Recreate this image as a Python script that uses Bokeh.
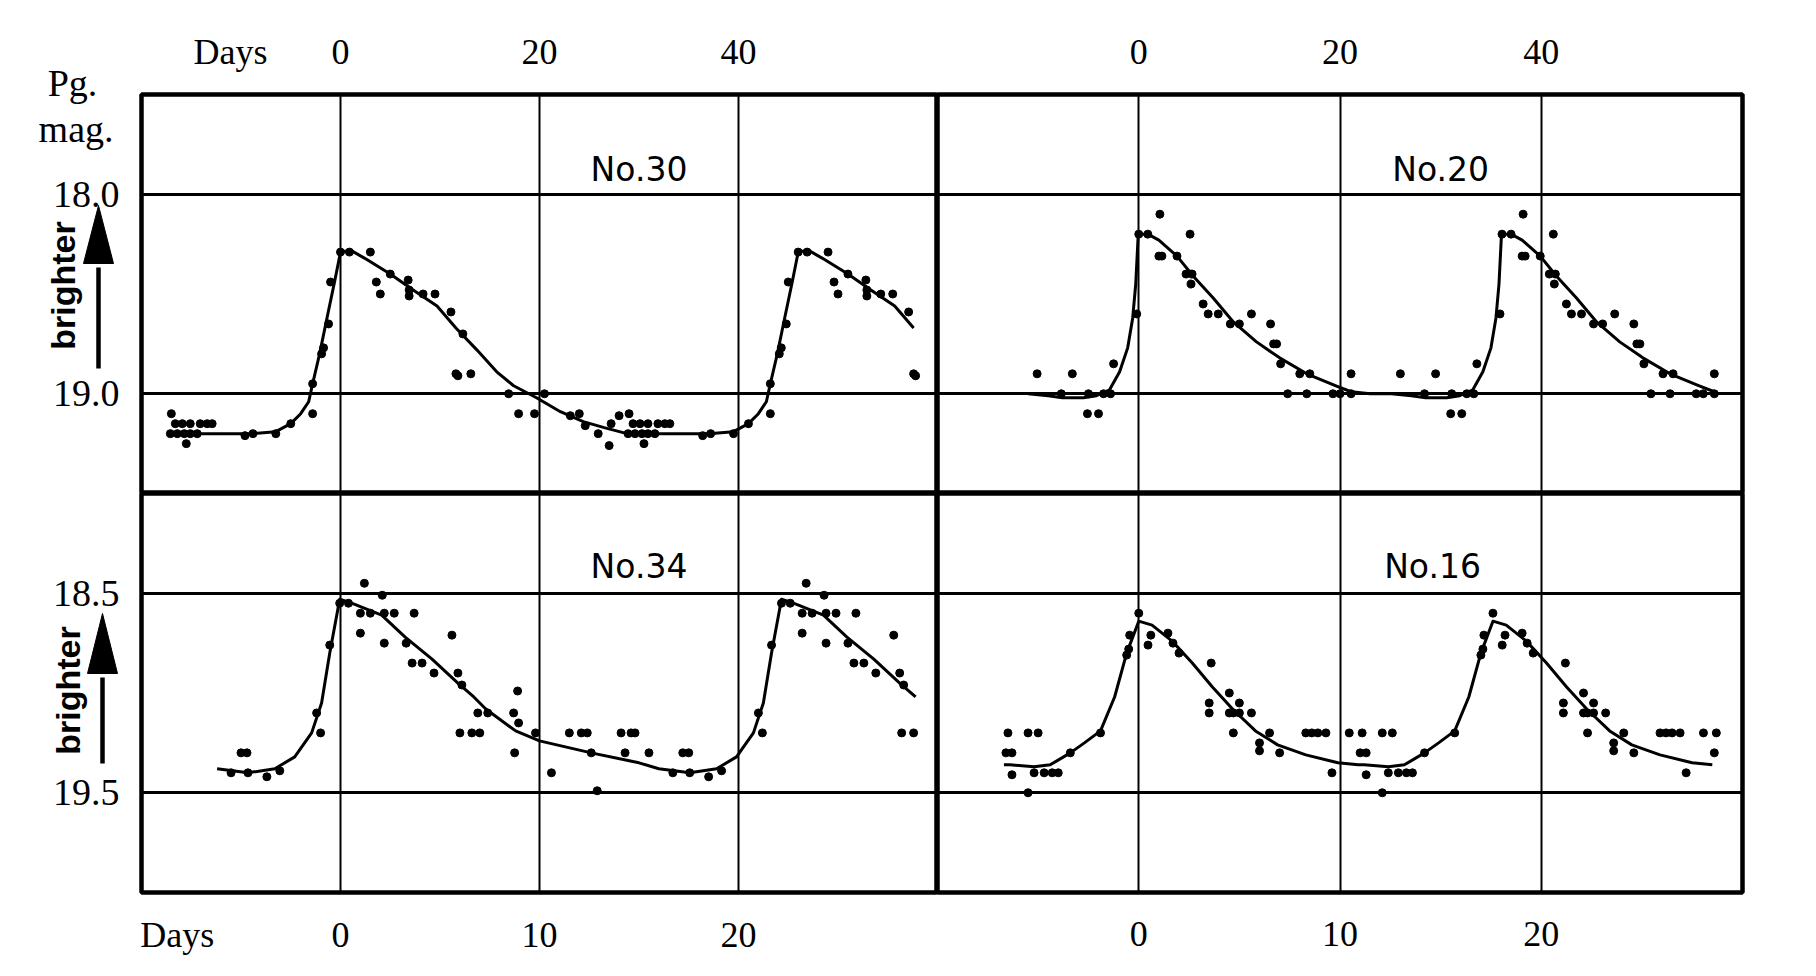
import math
from bokeh.plotting import figure
from bokeh.layouts import row, column
from bokeh.models import Range1d, FixedTicker, Label, Grid
from bokeh.core.properties import value
from bokeh.embed import file_html
from bokeh.resources import INLINE

# ------------------------------------------------------------------ data
top_day_ticks = [0, 20, 40]
bottom_day_ticks = [0, 10, 20]
top_mag_ticks = [18.0, 19.0]
bottom_mag_ticks = [18.5, 19.5]
top_day_range = [-20, 60]
bottom_day_range = [-10, 30]
top_mag_range = [17.5, 19.5]
bottom_mag_range = [18.0, 20.0]
days_label = "Days"
top_days_label_at = -11.05
bottom_days_label_at = -8.2

# --- No.30 (one cycle of observations, days from maximum) ---
n30_period = 46.0
n30_window = [-17.2, 57.9]
n30_day = [-17.0, -16.6, -15.9, -15.1, -14.1, -13.4, -12.9, -17.1, -16.4, -15.7,
           -15.1, -14.4, -15.5, -9.6, -8.8, -6.5, -5.0, -2.8, -2.8, -1.9,
           -1.7, -1.2, -1.0, 0.0, 0.9, 3.0, 3.6, 4.0, 5.0, 6.8,
           6.9, 6.9, 8.3, 9.5, 11.1, 12.3, 11.6, 11.8, 13.1, 16.9,
           17.9, 19.5, 20.5, 23.1, 24.0, 24.6, 25.9, 27.0, 27.2, 28.0]
n30_mag = [19.10, 19.15, 19.15, 19.15, 19.15, 19.15, 19.15, 19.20, 19.20, 19.20,
           19.20, 19.20, 19.25, 19.21, 19.20, 19.20, 19.15, 19.10, 18.95, 18.80,
           18.77, 18.65, 18.44, 18.29, 18.29, 18.29, 18.44, 18.50, 18.40, 18.43,
           18.48, 18.51, 18.50, 18.50, 18.59, 18.70, 18.90, 18.91, 18.90, 19.00,
           19.10, 19.10, 19.00, 19.11, 19.10, 19.16, 19.20, 19.26, 19.15, 19.11]
n30_curve_day = [-17.2, -13.0, -9.0, -6.5, -5.0, -4.0, -3.2, -2.8, -2.1, -1.4,
                 -0.6, 0.0, 1.0, 2.4, 5.0, 7.3, 9.7, 11.6, 13.7, 15.7,
                 17.4, 19.7, 22.1, 24.4, 26.5, 28.8]
n30_curve_mag = [19.20, 19.20, 19.20, 19.19, 19.15, 19.10, 19.04, 18.95, 18.80, 18.63,
                 18.44, 18.29, 18.28, 18.32, 18.40, 18.48, 18.56, 18.67, 18.78, 18.89,
                 18.96, 19.02, 19.09, 19.14, 19.17, 19.20]

# --- No.20 ---
n20_period = 36.1
n20_window = [-11.0, 57.3]
n20_day = [-10.1, -7.7, -6.6, -5.1, -4.0, -5.0, -3.5, -2.8, -2.5, -0.2,
           0.0, 0.9, 2.1, 2.0, 2.3, 3.8, 5.1, 4.7, 5.3, 5.2,
           6.4, 6.9, 7.9, 9.1, 10.0, 11.2, 13.1, 13.4, 13.7, 14.1,
           16.0, 17.0, 14.8, 16.7, 19.3, 20.0, 21.1, 21.1]
n20_mag = [18.90, 19.00, 18.90, 19.10, 19.10, 19.00, 19.00, 19.00, 18.85, 18.60,
           18.20, 18.20, 18.10, 18.31, 18.31, 18.31, 18.20, 18.40, 18.40, 18.45,
           18.55, 18.60, 18.60, 18.65, 18.65, 18.60, 18.65, 18.75, 18.75, 18.85,
           18.90, 18.90, 19.00, 19.00, 19.00, 19.00, 18.90, 19.00]
n20_curve_day = [-11.0, -9.0, -7.6, -5.5, -4.2, -2.9, -1.9, -1.1, -0.6, -0.3,
                 -0.05, 0.9, 2.0, 3.8, 5.4, 7.4, 9.4, 11.7, 14.0, 16.7,
                 19.6, 21.1, 23.0, 25.1]
n20_curve_mag = [19.00, 19.01, 19.02, 19.02, 19.01, 18.98, 18.89, 18.77, 18.62, 18.45,
                 18.20, 18.20, 18.23, 18.31, 18.41, 18.52, 18.64, 18.74, 18.82, 18.90,
                 18.96, 18.99, 19.00, 19.00]

# --- No.34 ---
n34_period = 22.2
n34_window = [-6.2, 28.9]
n34_day = [-5.0, -4.7, -5.5, -4.65, -3.7, -3.05, -1.0, -1.2, -0.54, -0.04,
           0.4, 1.2, 2.1, 1.0, 1.5, 2.2, 2.7, 3.7, 1.0, 2.2,
           3.3, 5.6, 3.6, 4.1, 4.7, 5.9, 6.1, 6.9, 7.4, 6.0,
           6.6, 7.0, 8.9, 8.7, 8.95, 8.75, 9.8, 10.6, 11.5, 12.1,
           12.4, 12.6, 12.9, 14.1, 14.6, 14.8, 14.3, 15.5]
n34_mag = [19.30, 19.30, 19.40, 19.40, 19.42, 19.39, 19.20, 19.10, 18.76, 18.55,
           18.55, 18.45, 18.51, 18.60, 18.60, 18.60, 18.60, 18.60, 18.70, 18.75,
           18.75, 18.71, 18.85, 18.85, 18.90, 18.90, 18.96, 19.10, 19.10, 19.20,
           19.20, 19.20, 18.99, 19.10, 19.15, 19.30, 19.20, 19.40, 19.20, 19.20,
           19.20, 19.30, 19.49, 19.20, 19.20, 19.20, 19.30, 19.30]
n34_curve_day = [-6.2, -4.65, -3.3, -2.3, -1.45, -0.95, -0.54, -0.04, 0.56, 2.07,
                 3.25, 4.6, 5.9, 6.7, 7.3, 8.8, 10.0, 12.6, 15.0, 16.0]
n34_curve_mag = [19.38, 19.40, 19.38, 19.32, 19.20, 19.05, 18.80, 18.53, 18.55, 18.61,
                 18.72, 18.83, 18.95, 19.02, 19.08, 19.19, 19.24, 19.30, 19.35, 19.38]

# --- No.16 ---
n16_period = 17.6
n16_window = [-6.7, 28.75]
n16_day = [-6.5, -5.5, -5.0, -6.6, -6.3, -6.3, -5.5, -5.2, -4.7, -4.3,
           -4.0, -3.4, -1.9, -0.6, -0.5, -0.45, 0.0, 0.46, 0.6, 1.45,
           1.7, 2.0, 3.6, 3.5, 3.5, 4.5, 5.0, 4.5, 4.7, 5.0,
           5.6, 4.7, 6.0, 6.0, 6.5, 7.0, 8.3, 8.6, 8.9, 9.3,
           9.6, 10.46]
n16_mag = [19.20, 19.20, 19.20, 19.30, 19.30, 19.41, 19.50, 19.40, 19.40, 19.40,
           19.40, 19.30, 19.20, 18.81, 18.78, 18.71, 18.60, 18.76, 18.71, 18.70,
           18.75, 18.80, 18.85, 19.05, 19.10, 19.00, 19.05, 19.10, 19.10, 19.10,
           19.10, 19.20, 19.25, 19.29, 19.20, 19.30, 19.20, 19.20, 19.20, 19.20,
           19.40, 19.20]
n16_curve_day = [-6.7, -6.4, -5.2, -4.4, -3.4, -2.7, -1.9, -1.2, -0.6, 0.0,
                 0.66, 1.66, 2.66, 3.66, 4.66, 5.8, 6.9, 8.3, 9.9, 10.9]
n16_curve_mag = [19.36, 19.36, 19.37, 19.36, 19.30, 19.25, 19.19, 19.02, 18.80, 18.64,
                 18.66, 18.74, 18.85, 18.97, 19.08, 19.19, 19.26, 19.31, 19.35, 19.36]

for a, b in [(n30_day, n30_mag), (n30_curve_day, n30_curve_mag), (n20_day, n20_mag),
             (n20_curve_day, n20_curve_mag), (n34_day, n34_mag), (n34_curve_day, n34_curve_mag),
             (n16_day, n16_mag), (n16_curve_day, n16_curve_mag)]:
    assert len(a) == len(b), (len(a), len(b))

# ------------------------------------------------------------------ layout
MARGIN_W = 137                      # left margin figure (labels, arrows)
BORDER_L, BORDER_R, BORDER_T, BORDER_B = 4, 60, 94, 76
FRAME_W_LEFT, FRAME_W_RIGHT, FRAME_H = 796, 805, 399
SERIF = "Liberation Serif"
SANS = "Liberation Sans"
TITLE_FONT = "DejaVu Sans"


def repeat_cycles(day, mag, period, window):
    xs, ys = [], []
    for k in range(-1, 4):
        for d, m in zip(day, mag):
            x = d + k * period
            if window[0] - 1e-6 <= x <= window[1] + 1e-6:
                xs.append(x)
                ys.append(m)
    return xs, ys


def style_axis(ax, ticks, overrides, size, standoff):
    ax.ticker = FixedTicker(ticks=ticks)
    if overrides:
        ax.major_label_overrides = overrides
    ax.axis_line_color = None
    ax.major_tick_line_color = None
    ax.minor_tick_line_color = None
    ax.major_label_text_font = SERIF
    ax.major_label_text_font_size = size
    ax.major_label_text_color = "black"
    ax.major_label_standoff = standoff


def make_panel(xr, yr, xticks, yticks, top, left, days_at, standoff):
    p = figure(frame_width=FRAME_W_LEFT if left else FRAME_W_RIGHT, frame_height=FRAME_H,
               x_range=Range1d(xr[0], xr[1]), y_range=Range1d(yr[1], yr[0]),
               x_axis_location="above" if top else "below", y_axis_location=None,
               toolbar_location=None, output_backend="svg",
               min_border_left=BORDER_L if left else 0,
               min_border_right=0 if left else BORDER_R,
               min_border_top=BORDER_T if top else 0,
               min_border_bottom=0 if top else BORDER_B,
               background_fill_color="white", border_fill_color="white",
               outline_line_color="black", outline_line_width=4.5)
    p.grid.visible = False
    ticks = list(xticks)
    overrides = None
    if days_at is not None:
        ticks = [days_at] + ticks
        overrides = {days_at: days_label}
    style_axis(p.xaxis[0], ticks, overrides, "36px", standoff)
    gx = Grid(dimension=0, ticker=FixedTicker(ticks=xticks), grid_line_color="black",
              grid_line_width=2)
    gy = Grid(dimension=1, ticker=FixedTicker(ticks=yticks), grid_line_color="black",
              grid_line_width=3)
    p.add_layout(gx, "center")
    p.add_layout(gy, "center")
    return p


def draw_star(p, day, mag, cday, cmag, period, window):
    cx, cy = repeat_cycles(cday, cmag, period, window)
    p.line(cx, cy, line_color="black", line_width=3, line_join="round")
    xs, ys = repeat_cycles(day, mag, period, window)
    p.scatter(xs, ys, size=8, color="black")


tl = make_panel(top_day_range, top_mag_range, top_day_ticks, top_mag_ticks, True, True,
                top_days_label_at, 17)
tr = make_panel(top_day_range, top_mag_range, top_day_ticks, top_mag_ticks, True, False, None, 25)
bl = make_panel(bottom_day_range, bottom_mag_range, bottom_day_ticks, bottom_mag_ticks, False, True,
                bottom_days_label_at, 16)
br = make_panel(bottom_day_range, bottom_mag_range, bottom_day_ticks, bottom_mag_ticks, False, False,
                None, 23)

draw_star(tl, n30_day, n30_mag, n30_curve_day, n30_curve_mag, n30_period, n30_window)
draw_star(tr, n20_day, n20_mag, n20_curve_day, n20_curve_mag, n20_period, n20_window)
draw_star(bl, n34_day, n34_mag, n34_curve_day, n34_curve_mag, n34_period, n34_window)
draw_star(br, n16_day, n16_mag, n16_curve_day, n16_curve_mag, n16_period, n16_window)

# panel titles (inside the upper cell of each panel)
for p, name, xc, yb in [(tl, "No.30", 30, 17.875), (tr, "No.20", 30, 17.875),
                        (bl, "No.34", 15, 18.365), (br, "No.16", 14.6, 18.365)]:
    p.add_layout(Label(x=xc, y=yb, text=name, text_font=TITLE_FONT, text_font_size="33px",
                       text_align="center", text_baseline="alphabetic", text_color="black"))

# ------------------------------------------------------------------ left margin figures
# (their frames line up with the panels' frames, sharing the magnitude scale)
top_span = top_mag_range[1] - top_mag_range[0]
bot_span = bottom_mag_range[1] - bottom_mag_range[0]


def top_mag_at(Y):        # canvas pixel row -> magnitude in the top row
    return top_mag_range[0] + (Y - BORDER_T) / FRAME_H * top_span


def bot_mag_at(Y):        # pixel row inside the bottom row -> magnitude
    return bottom_mag_range[0] + Y / FRAME_H * bot_span


def make_margin(mag_range, top):
    m = figure(frame_width=MARGIN_W, frame_height=FRAME_H, x_range=Range1d(0, MARGIN_W),
               y_range=Range1d(mag_range[1], mag_range[0]),
               x_axis_location="above" if top else None, y_axis_location=None,
               toolbar_location=None,
               output_backend="svg", min_border_left=0, min_border_right=0,
               min_border_top=BORDER_T if top else 0, min_border_bottom=0 if top else BORDER_B,
               outline_line_color=None,
               background_fill_color="white", border_fill_color="white")
    m.grid.visible = False
    return m


lm_top = make_margin(top_mag_range, True)
lm_bot = make_margin(bottom_mag_range, False)

# "Pg." sits just above the frame: label of the margin's top axis
style_axis(lm_top.xaxis[0], [72], {72: "Pg."}, "38px", -15)


def tick_texts(m, ticks):
    m.text(x=[119] * len(ticks), y=ticks, text=[f"{t:.1f}" for t in ticks],
           text_font=value(SERIF), text_font_size="38px", text_align="right",
           text_baseline="middle", text_color="black")


def brighter(m, mag_at, X, Yc, xa, y_tail, y_base, y_tip, half):
    m.text(x=[X], y=[mag_at(Yc)], text=["brighter"], text_font=value(SANS),
           text_font_style="bold", text_font_size="34px", text_align="center",
           text_baseline="middle", angle=math.pi / 2, text_color="black")
    m.segment(x0=[xa], y0=[mag_at(y_tail)], x1=[xa], y1=[mag_at(y_base + 4)],
              line_color="black", line_width=4.5)
    m.patch(x=[xa - half, xa + half, xa], y=[mag_at(y_base), mag_at(y_base), mag_at(y_tip)],
            fill_color="black", line_color="black", line_width=1)


tick_texts(lm_top, top_mag_ticks)
tick_texts(lm_bot, bottom_mag_ticks)
lm_top.text(x=[113], y=[top_mag_at(128)], text=["mag."], text_font=value(SERIF),
            text_font_size="38px", text_align="right", text_baseline="alphabetic",
            text_color="black")
brighter(lm_top, top_mag_at, 62, 285, 98, 368, 263, 205, 15)
brighter(lm_bot, bot_mag_at, 67, 690 - 493, 102, 763 - 493, 673 - 493, 613 - 493, 15)

layout = column(row(lm_top, tl, tr, spacing=0), row(lm_bot, bl, br, spacing=0), spacing=0)

open("out.html", "w").write(file_html(layout, INLINE))
